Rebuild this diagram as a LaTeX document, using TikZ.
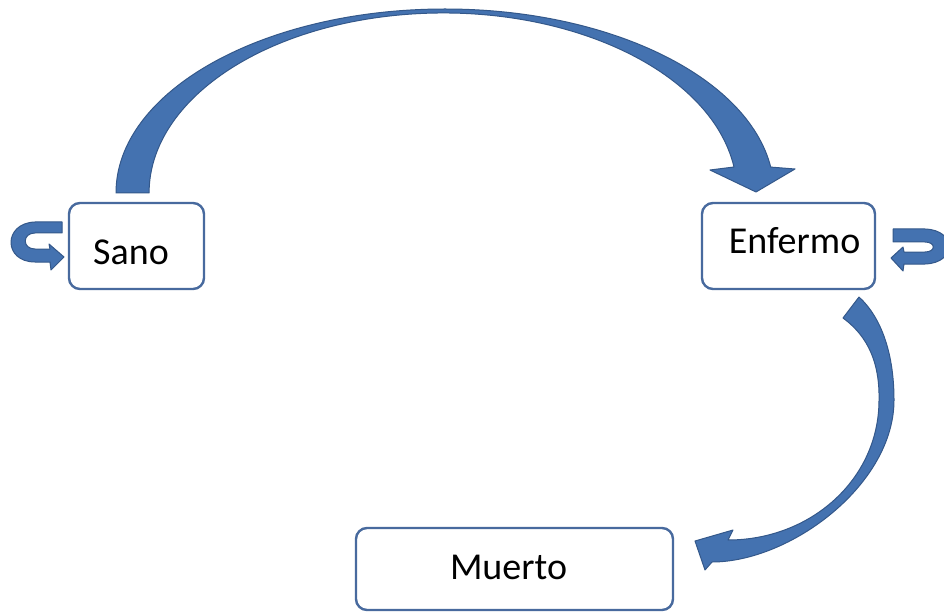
\documentclass[tikz,border=0pt]{standalone}
\usepackage{fontspec}
\setmainfont{Carlito}
\definecolor{boxline}{RGB}{72,106,158}
\definecolor{arrowfill}{RGB}{68,114,176}
\definecolor{arrowedge}{RGB}{52,88,138}
\tikzset{
  statebox/.style={draw=boxline, line width=2.4pt, rounded corners=11pt, fill=white, inner sep=0pt},
  statetext/.style={anchor=base, inner sep=0pt, font=\fontsize{38}{46}\selectfont},
  bigarrow/.style={fill=arrowfill, draw=arrowedge, line width=1pt, line join=round},
}
\begin{document}
\begin{tikzpicture}[x=1pt,y=-1pt]
\clip (0,0) rectangle (944,612);
\fill[white] (0,0) rectangle (944,612);

% boxes
\node[statebox, minimum width=135pt, minimum height=86pt] (sano) at (136.5,246) {};
\node[statebox, minimum width=173pt, minimum height=86pt] (enfermo) at (788.5,246) {};
\node[statebox, minimum width=317pt, minimum height=82pt] (muerto) at (514.5,569) {};

\node[statetext] (tsano) at (131,264) {Sano};
\node[statetext] (tenfermo) at (794.5,254) {Enfermo};
\node[statetext] (tmuerto) at (508.5,579) {Muerto};

% top arrow Sano -> Enfermo
\path[bigarrow] (116,193) arc[start angle=180, end angle=351.9, x radius=329, y radius=184]
  -- (795,169) -- (756,192) -- (710,170) -- (734,167)
  arc[start angle=351.7, end angle=180, x radius=294, y radius=180]
  -- cycle;

% right arrow Enfermo -> Muerto
\path[bigarrow] (859,297) .. controls (882,318) and (894,355) .. (894,400)
  .. controls (894,485) and (790,562) .. (712,562)
  -- (705,570) -- (695,541) -- (733,530) -- (728,540)
  .. controls (810,540) and (879,480) .. (879,400)
  .. controls (880,355) and (862,332) .. (843,318)
  -- cycle;

% self loop Sano
\path[bigarrow] (62,222) -- (35,222) .. controls (3,223) and (3,262) .. (35,262) -- (50,262) -- (51,270) -- (64,257) -- (49,244) -- (50,249) -- (35,249) .. controls (22,249) and (22,233) .. (35,233) -- (62,233) -- cycle;

% self loop Enfermo
\path[bigarrow] (893,229) -- (925,229) .. controls (957,230) and (957,263) .. (925,264) -- (904,264) -- (903,271) -- (891,258) -- (903,247) -- (904,252) -- (925,252) .. controls (936,252) and (936,242) .. (925,242) -- (893,242) -- cycle;
\end{tikzpicture}
\end{document}
